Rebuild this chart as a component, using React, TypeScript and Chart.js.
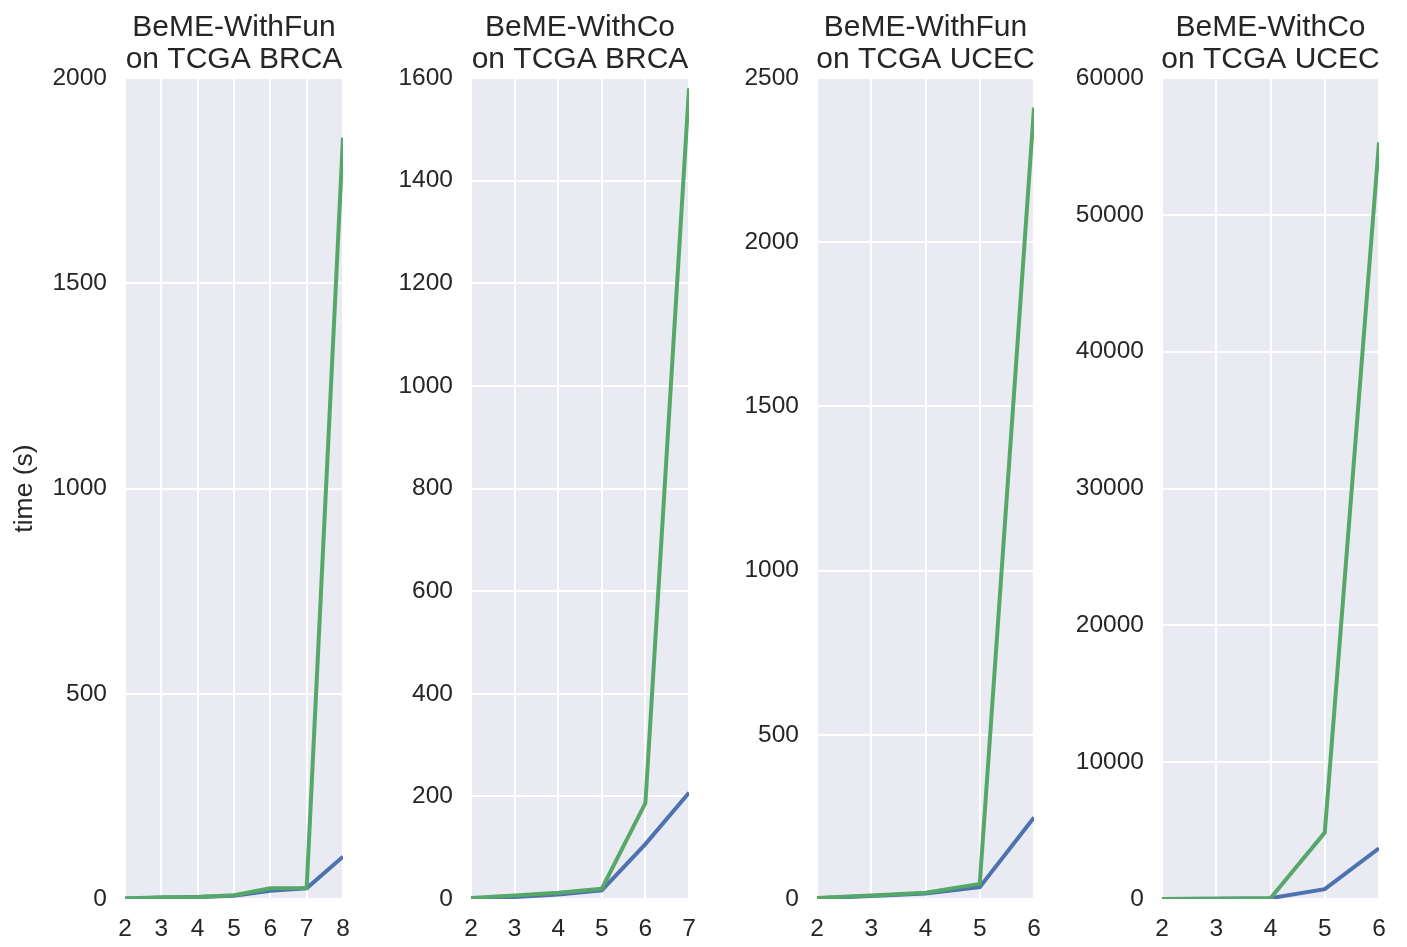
import React, { useEffect, useRef } from "react";
import { Chart, registerables } from "chart.js";

Chart.register(...registerables);

const titles1 = ["BeME-WithFun", "on TCGA BRCA"];
const titles2 = ["BeME-WithCo", "on TCGA BRCA"];
const titles3 = ["BeME-WithFun", "on TCGA UCEC"];
const titles4 = ["BeME-WithCo", "on TCGA UCEC"];

const xs1 = [2, 3, 4, 5, 6, 7, 8];
const green1 = [1, 4, 5, 9, 26, 27, 1855];
const blue1 = [1, 3, 5, 8, 20, 26, 103];

const xs2 = [2, 3, 4, 5, 6, 7];
const green2 = [2, 7, 12, 20, 187, 1580];
const blue2 = [1, 4, 9, 17, 107, 207];

const xs3 = [2, 3, 4, 5, 6];
const green3 = [3, 11, 19, 46, 2410];
const blue3 = [2, 9, 17, 36, 248];

const xs4 = [2, 3, 4, 5, 6];
const green4 = [5, 10, 60, 4850, 55300];
const blue4 = [5, 10, 60, 720, 3700];

const yMax = [2000, 1600, 2500, 60000];
const yStep = [500, 200, 500, 10000];
const yLabel = "time (s)";

const GREEN = "#55A868";
const BLUE = "#4C72B0";
const TEXT = "#262626";
const BG = "#EAEAF2";
const FONT = "'Liberation Sans', Arial, sans-serif";

const panels = [
  { title: titles1, xs: xs1, g: green1, b: blue1, left: 125, right: 343 },
  { title: titles2, xs: xs2, g: green2, b: blue2, left: 471, right: 689 },
  { title: titles3, xs: xs3, g: green3, b: blue3, left: 817, right: 1034 },
  { title: titles4, xs: xs4, g: green4, b: blue4, left: 1162, right: 1379 },
];

const PLOT_TOP = 78;
const PLOT_BOTTOM = 899;
const H = 947;
const LEFT_W = 120;
const EXTRA_W = 24;

function Panel({ idx }: { idx: number }) {
  const ref = useRef<HTMLCanvasElement | null>(null);
  const p = panels[idx];
  const plotW = p.right - p.left;
  const width = plotW + LEFT_W + EXTRA_W;
  useEffect(() => {
    if (!ref.current) return;
    const bgPlugin = {
      id: "bgTitle",
      beforeDraw(chart: any) {
        const { ctx, chartArea } = chart;
        ctx.save();
        ctx.fillStyle = BG;
        ctx.fillRect(chartArea.left, chartArea.top, chartArea.right - chartArea.left, chartArea.bottom - chartArea.top);
        ctx.restore();
      },
      afterDraw(chart: any) {
        const { ctx, chartArea } = chart;
        ctx.save();
        ctx.fillStyle = TEXT;
        ctx.font = `30px ${FONT}`;
        ctx.textAlign = "center";
        ctx.textBaseline = "alphabetic";
        const cx = (chartArea.left + chartArea.right) / 2;
        ctx.fillText(p.title[0], cx, 36);
        ctx.fillText(p.title[1], cx, 68);
        if (idx === 0) {
          ctx.translate(chartArea.left - 100, (chartArea.top + chartArea.bottom) / 2);
          ctx.rotate(-Math.PI / 2);
          ctx.font = `26.5px ${FONT}`;
          ctx.textBaseline = "middle";
          ctx.fillText(yLabel, 0, 0);
        }
        ctx.restore();
      },
    };
    const chart = new Chart(ref.current, {
      type: "line",
      data: {
        datasets: [
          {
            data: p.xs.map((x, i) => ({ x, y: p.g[i] })),
            borderColor: GREEN,
            borderWidth: 4,
            pointRadius: 0,
            tension: 0,
            fill: false,
          },
          {
            data: p.xs.map((x, i) => ({ x, y: p.b[i] })),
            borderColor: BLUE,
            borderWidth: 4,
            pointRadius: 0,
            tension: 0,
            fill: false,
          },
        ],
      },
      options: {
        animation: false,
        responsive: false,
        maintainAspectRatio: false,
        layout: { padding: { top: PLOT_TOP, right: EXTRA_W, left: 0, bottom: 0 } },
        plugins: { legend: { display: false }, tooltip: { enabled: false }, title: { display: false } },
        scales: {
          x: {
            type: "linear",
            min: p.xs[0],
            max: p.xs[p.xs.length - 1],
            ticks: {
              stepSize: 1,
              color: TEXT,
              font: { size: 24.5, family: FONT },
              padding: 16,
              maxRotation: 0,
              callback: (v: any) => String(v),
            },
            grid: { color: "#FFFFFF", lineWidth: 2, drawTicks: false },
            border: { display: false },
            afterFit: (s: any) => {
              s.height = H - PLOT_BOTTOM;
              s.paddingLeft = 0;
              s.paddingRight = 0;
            },
          },
          y: {
            type: "linear",
            min: 0,
            max: yMax[idx],
            ticks: {
              stepSize: yStep[idx],
              color: TEXT,
              font: { size: 24.5, family: FONT },
              padding: 18,
              callback: (v: any) => String(v),
            },
            grid: { color: "#FFFFFF", lineWidth: 2, drawTicks: false },
            border: { display: false },
            afterFit: (s: any) => {
              s.width = LEFT_W;
              s.paddingTop = 0;
              s.paddingBottom = 0;
            },
          },
        },
      },
      plugins: [bgPlugin],
    });
    return () => chart.destroy();
  }, [idx]);
  return (
    <canvas
      ref={ref}
      width={width}
      height={H}
      style={{ position: "absolute", left: p.left - LEFT_W, top: 0, width, height: H }}
    />
  );
}

export default function App() {
  return (
    <div style={{ position: "absolute", left: 0, top: 0, width: 1407, height: 947, background: "#fff", overflow: "hidden" }}>
      {panels.map((_, i) => (
        <Panel key={i} idx={i} />
      ))}
    </div>
  );
}
